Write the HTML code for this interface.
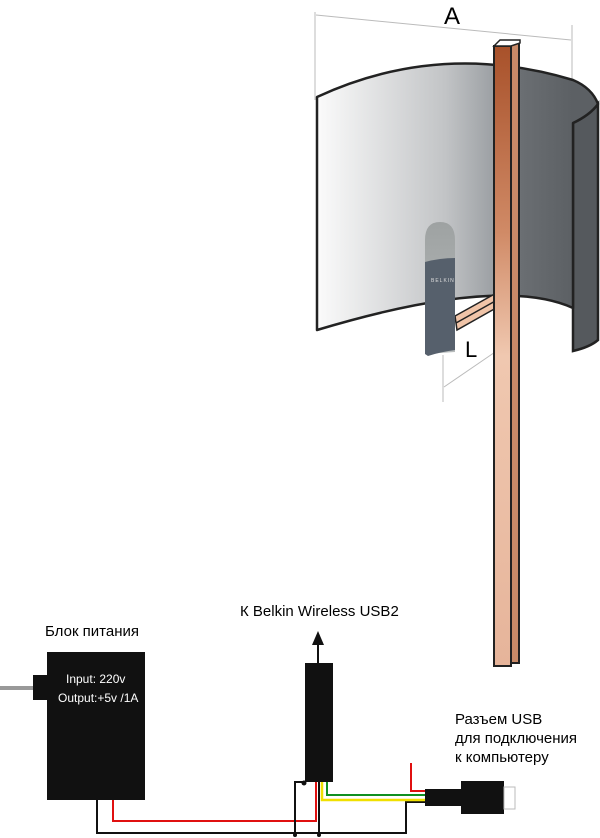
<!DOCTYPE html>
<html><head><meta charset="utf-8"><style>
html,body{margin:0;padding:0;background:#fff;}
svg{display:block;}
text{font-family:"Liberation Sans","Noto Sans CJK SC",sans-serif;}
</style></head><body>
<svg width="600" height="838" viewBox="0 0 600 838" xmlns="http://www.w3.org/2000/svg">
<defs>
<linearGradient id="cyl" x1="317" x2="573" y1="0" y2="0" gradientUnits="userSpaceOnUse">
<stop offset="0" stop-color="#fbfbfb"/><stop offset="0.5" stop-color="#c2c4c6"/><stop offset="0.7" stop-color="#9a9ea2"/><stop offset="0.8" stop-color="#6a6e72"/><stop offset="1" stop-color="#5c6064"/>
</linearGradient>
<linearGradient id="cop" x1="0" y1="0" x2="0" y2="1">
<stop offset="0" stop-color="#a8512a"/><stop offset="0.3" stop-color="#d08a66"/><stop offset="0.5" stop-color="#f0c8b0"/><stop offset="1" stop-color="#e6b49a"/>
</linearGradient>
<linearGradient id="dong" x1="0" y1="0" x2="0" y2="1"><stop offset="0" stop-color="#9ea2a2"/><stop offset="1" stop-color="#b8bcbc"/></linearGradient>
</defs>
<g stroke="#bbb" stroke-width="1" fill="none">
<line x1="315" y1="12" x2="315" y2="100"/>
<line x1="572" y1="25" x2="572" y2="125"/>
<line x1="316" y1="15" x2="571" y2="40"/>
<line x1="443" y1="355" x2="443" y2="402"/>
<line x1="444" y1="387" x2="501" y2="348"/>
</g>
<text x="444" y="24" font-size="24">A</text>
<path d="M573 123 Q590 115 598 104 L598 340 Q590 347 573 351 Z" fill="#55595d" stroke="#222" stroke-width="2.5"/>
<path d="M317 97 Q 440 40 573 80 Q 592 88 598 104 Q 590 115 573 123 L573 308 Q 500 275 317 330 Z" fill="url(#cyl)" stroke="#222" stroke-width="2.5" stroke-linejoin="round"/>
<path d="M455 316 L500 291 L512 299 L457 330 Z" fill="#f0c4a8" stroke="#222" stroke-width="1.5"/>
<line x1="456" y1="323" x2="506" y2="295" stroke="#222" stroke-width="1.5"/>
<rect x="494" y="46" width="17" height="620" fill="url(#cop)" stroke="#222" stroke-width="2"/>
<rect x="511" y="43" width="8" height="620" fill="#c98a68" stroke="#222" stroke-width="2"/>
<path d="M494 46 L500 40 L520 40 L520 43 L511 46 Z" fill="#fff" stroke="#222" stroke-width="1.5"/>
<path d="M425 354 L425 240 Q425 222 440 222 Q455 222 455 240 L455 352 Z" fill="url(#dong)"/>
<path d="M425 262 Q440 258 455 258 L455 350 Q440 352 428 356 L425 354 Z" fill="#56606c"/>
<text x="431" y="282" font-size="5" fill="#ddd" letter-spacing="1">BELKIN</text>
<text x="465" y="357" font-size="22">L</text>
<text x="45" y="636" font-size="15">Блок питания</text>
<text x="240" y="616" font-size="15">К Belkin Wireless USB2</text>
<text x="455" y="724" font-size="15">Разъем USB</text>
<text x="455" y="743" font-size="15">для подключения</text>
<text x="455" y="762" font-size="15">к компьютеру</text>
<rect x="0" y="686" width="36" height="4" fill="#999"/>
<rect x="33" y="675" width="15" height="25" fill="#111"/>
<rect x="47" y="652" width="98" height="148" fill="#111"/>
<text x="66" y="683" font-size="12" fill="#fff">Input: 220v</text>
<text x="58" y="702" font-size="12" fill="#fff">Output:+5v /1A</text>
<rect x="305" y="663" width="28" height="119" fill="#111"/>
<line x1="318" y1="663" x2="318" y2="642" stroke="#111" stroke-width="2"/>
<path d="M312 645 L318 631 L324 645 Z" fill="#111"/>
<g fill="none" stroke-width="2">
<path d="M113 800 V821 H316 V782" stroke="#e01010"/>
<path d="M97 800 V833 H406 V802 H425" stroke="#111"/>
<path d="M305 782 H295 V836" stroke="#111"/>
<path d="M319 782 V836" stroke="#111"/>
<path d="M322 782 V800 H425" stroke="#f0e000" stroke-width="2.5"/>
<path d="M327 782 V795 H425" stroke="#109020"/>
<path d="M411 763 V791 H425" stroke="#e01010"/>
</g>
<circle cx="304" cy="783" r="2.5" fill="#111"/>
<circle cx="295" cy="835" r="2" fill="#111"/>
<circle cx="319" cy="835" r="2" fill="#111"/>
<rect x="425" y="789" width="37" height="17" fill="#111"/>
<rect x="461" y="781" width="43" height="33" fill="#111"/>
<rect x="504" y="787" width="11" height="22" fill="#fff" stroke="#bbb"/>
</svg>
</body></html>
